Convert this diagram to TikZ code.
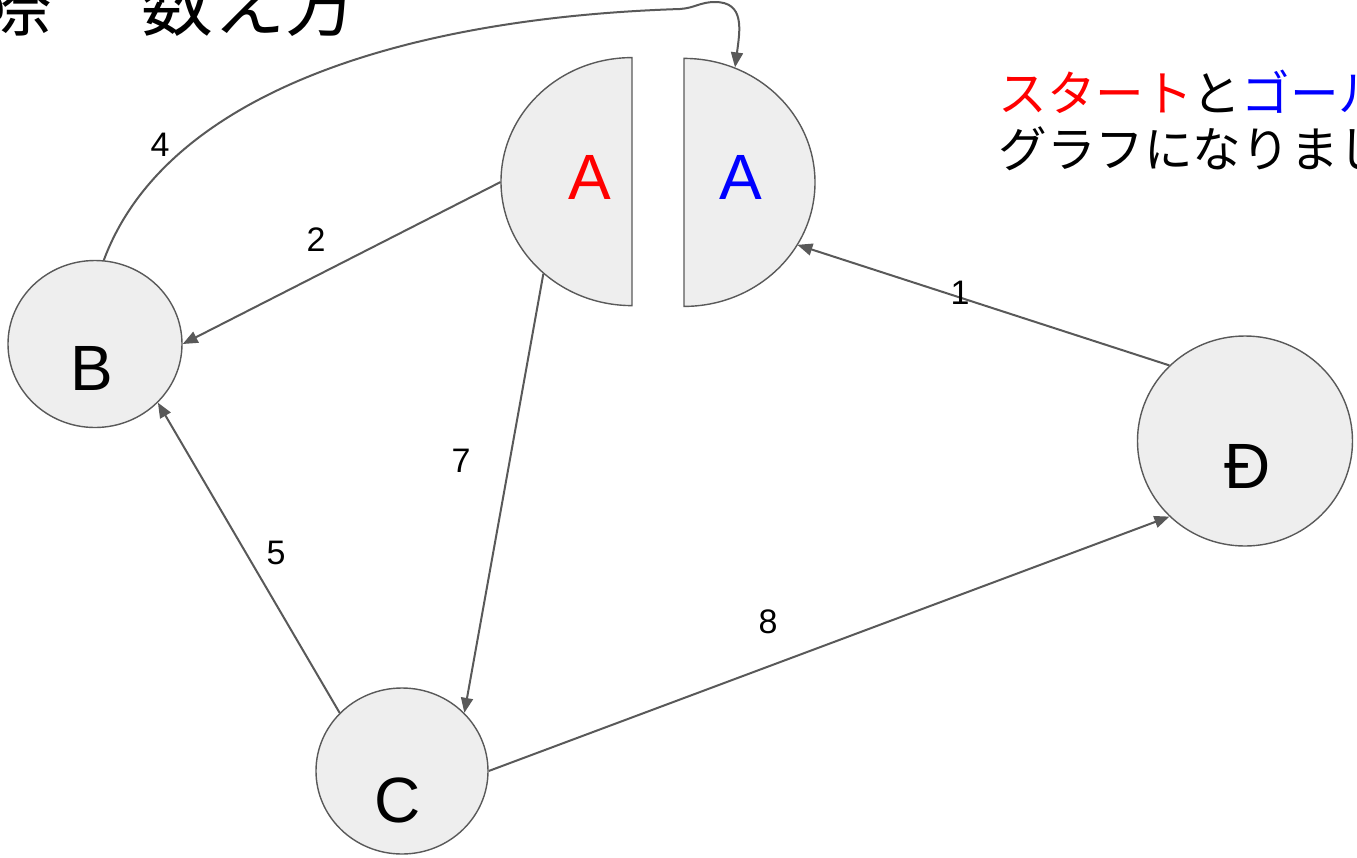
\documentclass[tikz,border=0pt]{standalone}
\usepackage{fontspec}
\setmainfont{Liberation Sans}
\newfontfamily\jpfont{Noto Sans CJK JP}
\usetikzlibrary{arrows.meta,shapes.geometric}
\definecolor{cLine}{HTML}{595959}
\definecolor{cFill}{HTML}{EEEEEE}
\definecolor{cRed}{HTML}{FF0000}
\definecolor{cBlue}{HTML}{0000FF}
\tikzset{
  vtx/.style={ellipse,draw=cLine,fill=cFill,line width=0.7pt,inner sep=0pt},
  rim/.style={ellipse,draw=none,inner sep=0pt,minimum width=131pt,minimum height=124pt},
  half/.style={draw=cLine,fill=cFill,line width=0.7pt},
  arr/.style={-{Triangle[length=7.5pt,width=6pt]},line width=1pt,color=cLine},
  wt/.style={font=\fontsize{17}{20}\selectfont,inner sep=1pt},
  vlbl/.style={font=\fontsize{32}{38}\selectfont,inner sep=0pt},
  jtxt/.style={font=\jpfont\fontsize{#1}{#1}\selectfont,anchor=base west,inner sep=0pt},
}

\begin{document}
\begin{tikzpicture}[x=0.5pt,y=0.5pt]
  \useasboundingbox (0,0) rectangle (1357,-858);
  % vertices
  \node[vtx,minimum width=87pt,minimum height=83.5pt] (B) at (95,-344) {};
  \node[vtx,minimum width=86pt,minimum height=83pt] (C) at (402,-771) {};
  \node[vtx,minimum width=107.5pt,minimum height=105pt] (D) at (1245,-441) {};
  \node[rim] (AL) at (632,-182) {};
  \node[rim] (AR) at (684,-182) {};
  \draw[half] (AL.north) arc[start angle=90,end angle=270,x radius=65.5pt,y radius=62pt] -- cycle;
  \draw[half] (AR.south) arc[start angle=-90,end angle=90,x radius=65.5pt,y radius=62pt] -- cycle;
  \node[vlbl,text=cRed] (aS) at (590,-177) {A};
  \node[vlbl,text=cBlue] (aG) at (741,-177) {A};
  \node[vlbl] (bL) at (92,-368) {B};
  \node[vlbl] (cL) at (398,-800) {C};
  \node[vlbl] (dL) at (1248,-466) {Đ};
  % edges
  \draw[arr] (D.135) -- (AR.-29);
  \draw[arr] (AL.west) -- (B.east);
  \draw[arr] (B.84) .. controls (165,-95) and (400,-18) .. (680,-9)
    .. controls (695,-8) and (700,-2) .. (715,-2)
    .. controls (745,-2) and (740,-30) .. (AR.66);
  \draw[arr] (C.137) -- (B.-43);
  \draw[arr] (AL.226) -- (C.43);
  \draw[arr] (C.east) -- (D.225);
  \node[wt] (w1) at (960,-293) {1};
  \node[wt] (w2) at (316,-240) {2};
  \node[wt] (w4) at (160,-145) {4};
  \node[wt] (w5) at (276,-553) {5};
  \node[wt] (w7) at (461,-461) {7};
  \node[wt] (w8) at (768,-622) {8};
  % texts
  \node[jtxt=36] (title) at (-20,-30) {際\kern8.5pt　数え方};
  \node[jtxt=24.3] (note1) at (998,-111) {{\color{cRed}スタート}と{\color{cBlue}ゴール}};
  \node[jtxt=24.3] (note2) at (998,-167) {グラフになりまし};
\end{tikzpicture}
\end{document}
